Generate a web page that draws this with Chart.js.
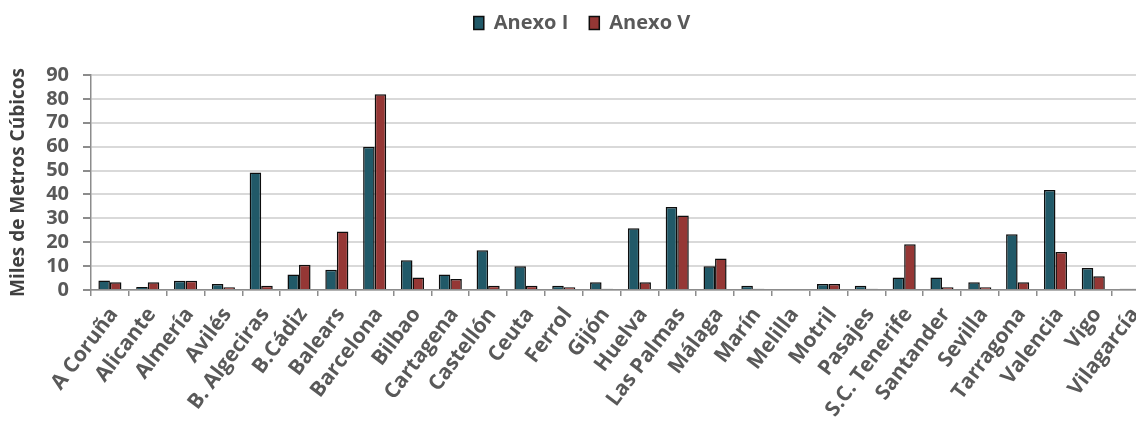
<!DOCTYPE html>
<html lang="es">
<head>
<meta charset="utf-8">
<title>Anexo I / Anexo V por puerto</title>
<script src="https://cdn.jsdelivr.net/npm/chart.js@4/dist/chart.umd.min.js"></script>
<style>
  html, body { margin: 0; padding: 0; background: #ffffff; overflow: hidden; }
  #wrap { width: 1163px; height: 421px; }
</style>
</head>
<body>
<div id="wrap"><canvas id="chart" width="1163" height="421"></canvas></div>
<script>
// Puertos
const ports = [
  'A Coruña', 'Alicante', 'Almería', 'Avilés', 'B. Algeciras', 'B.Cádiz', 'Balears',
  'Barcelona', 'Bilbao', 'Cartagena', 'Castellón', 'Ceuta', 'Ferrol', 'Gijón',
  'Huelva', 'Las Palmas', 'Málaga', 'Marín', 'Melilla', 'Motril', 'Pasajes',
  'S.C. Tenerife', 'Santander', 'Sevilla', 'Tarragona', 'Valencia', 'Vigo', 'Vilagarcía'
];

// Miles de metros cúbicos recogidos
const anexoI = [
  4.0, 1.3, 3.9, 2.5, 49.2, 6.5, 8.5,
  60.0, 12.5, 6.5, 16.6, 9.9, 1.8, 3.2,
  25.9, 34.7, 9.9, 1.8, 0, 2.5, 1.8,
  5.2, 5.2, 3.2, 23.3, 41.9, 9.2, 0.5
];
const anexoV = [
  3.2, 3.2, 3.9, 1.1, 1.8, 10.6, 24.5,
  81.9, 5.2, 4.6, 1.8, 1.8, 1.1, 0.5,
  3.2, 31.2, 13.2, 0.5, 0, 2.5, 0.5,
  19.2, 1.1, 1.1, 3.2, 15.9, 5.8, 0.5
];

// Eje vertical
const yMin = 0;
const yMax = 90;
const yStep = 10;

const seriesNames = ['Anexo I', 'Anexo V'];

const textGray = '#595959';
const axisGray = '#8c8c8c';
const gridGray = '#d9d9d9';
const fontFamily = '"Open Sans", "DejaVu Sans", sans-serif';

// Legend placement: extra space below the row and a small shift to the right
const legendPlacement = {
  id: 'legendPlacement',
  beforeLayout(chart) {
    const lg = chart.legend;
    if (lg && !lg._gapWrapped) {
      const fit = lg.fit;
      lg.fit = function () {
        fit.call(this);
        this.height += 32;
      };
      lg._gapWrapped = true;
    }
  },
  afterLayout(chart) {
    const lg = chart.legend;
    if (lg) {
      lg.left += 7;
      lg.right += 7;
    }
  }
};

new Chart(document.getElementById('chart'), {
  type: 'bar',
  data: {
    labels: ports,
    datasets: [
      {
        label: seriesNames[0],
        data: anexoI,
        backgroundColor: '#215968',
        borderColor: '#0d0d0d',
        borderWidth: 1.5,
        borderSkipped: 'start',
        categoryPercentage: 0.61,
        barPercentage: 1.0
      },
      {
        label: seriesNames[1],
        data: anexoV,
        backgroundColor: '#953735',
        borderColor: '#0d0d0d',
        borderWidth: 1.5,
        borderSkipped: 'start',
        categoryPercentage: 0.61,
        barPercentage: 1.0
      }
    ]
  },
  options: {
    responsive: false,
    animation: false,
    layout: { padding: { top: -8, right: 13, bottom: 0, left: 0 } },
    plugins: {
      tooltip: { enabled: false },
      legend: {
        position: 'top',
        align: 'center',
        labels: {
          boxWidth: 10,
          boxHeight: 13,
          padding: 21,
          color: textGray,
          font: { family: fontFamily, size: 20, weight: 'bold' }
        }
      }
    },
    scales: {
      x: {
        offset: true,
        grid: {
          offset: true,
          drawOnChartArea: false,
          drawTicks: true,
          tickLength: 6,
          tickColor: axisGray,
          lineWidth: 1.5
        },
        border: { display: true, color: axisGray, width: 1.5 },
        ticks: {
          autoSkip: false,
          maxRotation: 53,
          minRotation: 53,
          padding: 7,
          labelOffset: 4,
          color: textGray,
          font: { family: fontFamily, size: 21, weight: 'bold' }
        },
        afterFit(scale) { scale.height = 131; }
      },
      y: {
        min: yMin,
        max: yMax,
        grid: {
          color: gridGray,
          lineWidth: 2,
          drawTicks: true,
          tickLength: 8,
          tickColor: axisGray
        },
        border: { display: true, color: axisGray, width: 1.5 },
        ticks: {
          stepSize: yStep,
          maxTicksLimit: 20,
          padding: 14,
          color: textGray,
          font: { family: fontFamily, size: 20, weight: 'bold', lineHeight: 1 }
        },
        title: {
          display: true,
          text: 'Miles de Metros Cúbicos',
          color: '#404040',
          padding: { top: 7, bottom: 0 },
          font: { family: fontFamily, size: 19, weight: 'bold' }
        },
        afterFit(scale) { scale.width = 91; }
      }
    }
  },
  plugins: [legendPlacement]
});
</script>
</body>
</html>
